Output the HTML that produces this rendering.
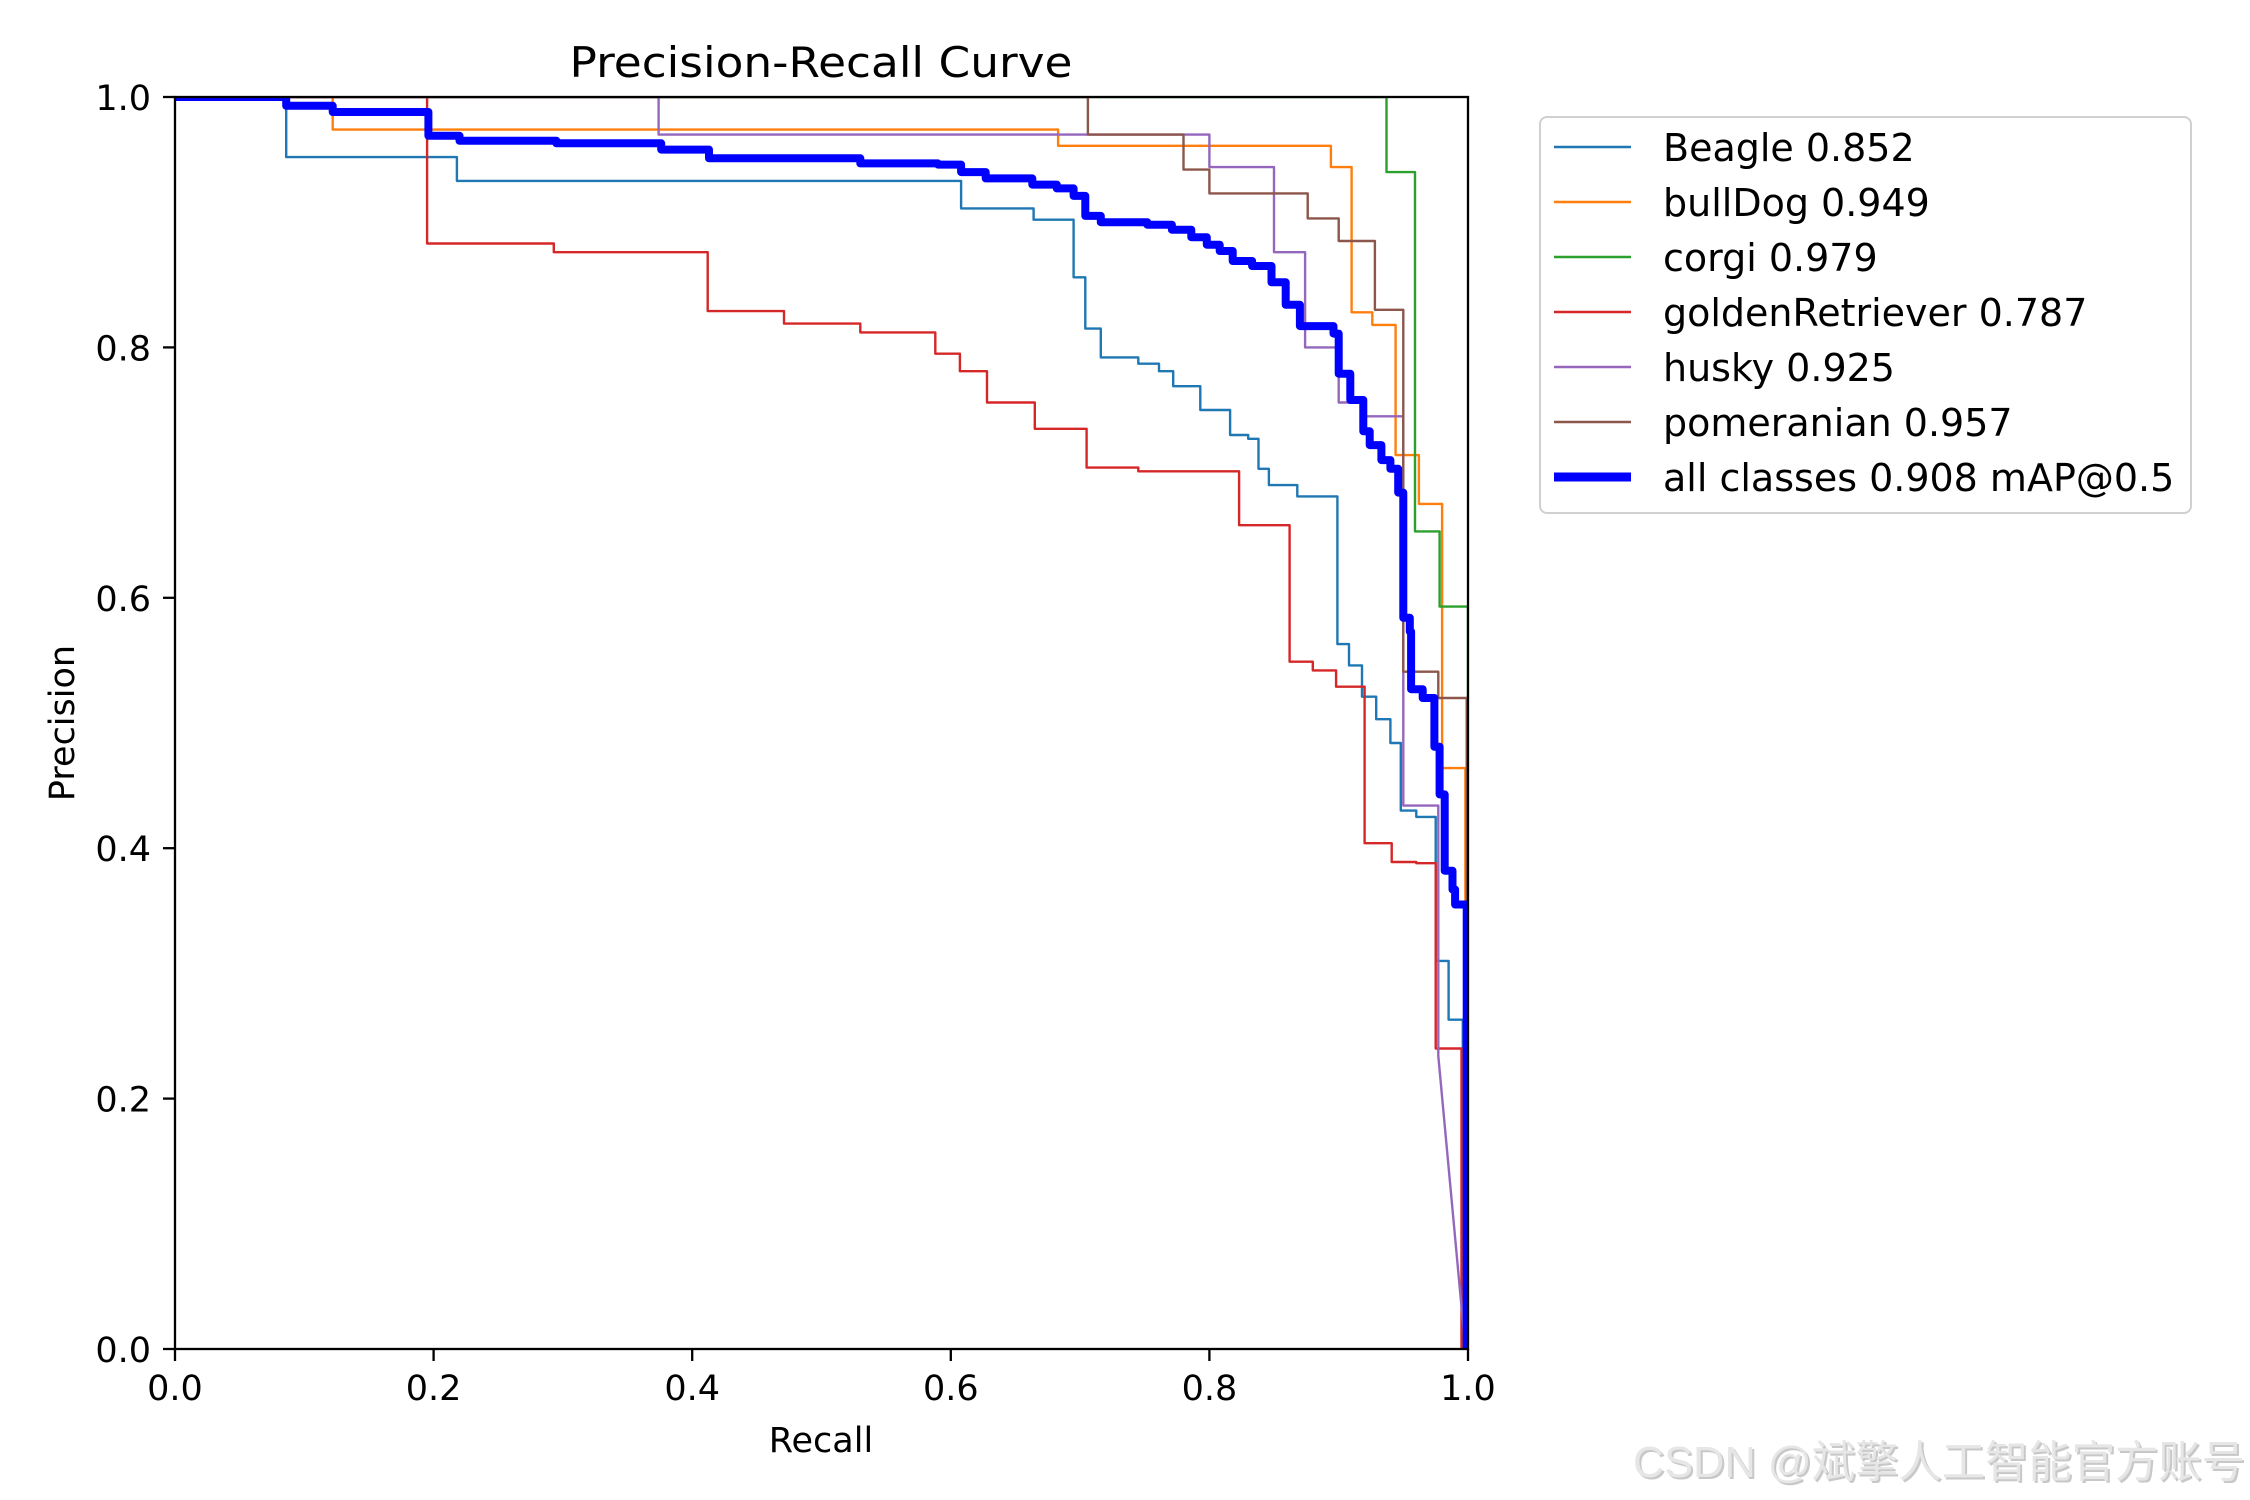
<!DOCTYPE html>
<html><head><meta charset="utf-8"><title>Precision-Recall Curve</title>
<style>html,body{margin:0;padding:0;background:#fff;}svg{display:block;}</style></head>
<body>
<svg id="chart" width="2250" height="1500" viewBox="0 0 2250 1500" xmlns="http://www.w3.org/2000/svg" font-family="'DejaVu Sans','Liberation Sans',sans-serif">
<rect x="0" y="0" width="2250" height="1500" fill="#fff"/>
<text x="821" y="77" font-size="42" text-anchor="middle" textLength="503" lengthAdjust="spacingAndGlyphs">Precision-Recall Curve</text>
<g id="plot"></g>
<text x="821" y="1452" font-size="35" text-anchor="middle">Recall</text>
<text x="0" y="0" font-size="35" text-anchor="middle" transform="translate(74,723) rotate(-90)">Precision</text>
<g id="legend"></g>
<text x="1635" y="1479" font-size="44" fill="#c8c8c8" textLength="612" lengthAdjust="spacingAndGlyphs" font-family="'Liberation Sans','Noto Sans CJK SC',sans-serif">CSDN @斌擎人工智能官方账号</text>
<text x="1633" y="1477" font-size="44" fill="#e6e6e6" textLength="612" lengthAdjust="spacingAndGlyphs" font-family="'Liberation Sans','Noto Sans CJK SC',sans-serif">CSDN @斌擎人工智能官方账号</text>
</svg>
<script>
const xTicks = [0.0, 0.2, 0.4, 0.6, 0.8, 1.0];
const yTicks = [0.0, 0.2, 0.4, 0.6, 0.8, 1.0];
const tickLabels = ["0.0", "0.2", "0.4", "0.6", "0.8", "1.0"];
const seriesNames = ["Beagle 0.852", "bullDog 0.949", "corgi 0.979", "goldenRetriever 0.787", "husky 0.925", "pomeranian 0.957", "all classes 0.908 mAP@0.5"];
// step breakpoints: at recall r, precision drops to p
const beagleR = [0.086, 0.218, 0.608, 0.664, 0.695, 0.704, 0.716, 0.745, 0.761, 0.772, 0.793, 0.816, 0.83, 0.838, 0.846, 0.868, 0.899, 0.908, 0.918, 0.929, 0.94, 0.948, 0.96, 0.975, 0.985, 0.996];
const beagleP = [0.952, 0.933, 0.911, 0.902, 0.856, 0.815, 0.792, 0.787, 0.781, 0.769, 0.750, 0.730, 0.727, 0.703, 0.690, 0.681, 0.563, 0.546, 0.521, 0.503, 0.484, 0.430, 0.425, 0.31, 0.263, 0.0];
const bulldogR = [0.122, 0.683, 0.894, 0.91, 0.926, 0.944, 0.962, 0.98, 0.998];
const bulldogP = [0.974, 0.961, 0.944, 0.828, 0.818, 0.714, 0.675, 0.464, 0.0];
const corgiR = [0.937, 0.959, 0.978, 1.0];
const corgiP = [0.94, 0.653, 0.593, 0.0];
const goldenR = [0.195, 0.293, 0.412, 0.471, 0.53, 0.588, 0.607, 0.628, 0.665, 0.705, 0.745, 0.823, 0.862, 0.88, 0.898, 0.92, 0.941, 0.96, 0.975, 0.995];
const goldenP = [0.883, 0.876, 0.829, 0.819, 0.812, 0.795, 0.781, 0.756, 0.735, 0.704, 0.701, 0.658, 0.549, 0.542, 0.529, 0.404, 0.389, 0.388, 0.24, 0.0];
const huskyR = [0.374, 0.8, 0.85, 0.874, 0.9, 0.92, 0.95, 0.977];
const huskyP = [0.970, 0.944, 0.876, 0.800, 0.756, 0.745, 0.434, 0.234];
const huskyEnd = [0.998, 0.0];
const pomR = [0.706, 0.78, 0.8, 0.876, 0.9, 0.928, 0.95, 0.977, 0.999];
const pomP = [0.970, 0.942, 0.923, 0.903, 0.885, 0.83, 0.541, 0.52, 0.0];
const allR = [0.086, 0.122, 0.196, 0.22, 0.295, 0.376, 0.413, 0.53, 0.59, 0.608, 0.627, 0.663, 0.682, 0.695, 0.704, 0.716, 0.752, 0.771, 0.786, 0.798, 0.808, 0.818, 0.833, 0.848, 0.859, 0.87, 0.896, 0.9, 0.909, 0.919, 0.924, 0.933, 0.94, 0.946, 0.95, 0.955, 0.956, 0.965, 0.974, 0.978, 0.982, 0.988, 0.99, 0.999];
const allP = [0.993, 0.988, 0.969, 0.965, 0.963, 0.958, 0.951, 0.947, 0.946, 0.940, 0.935, 0.930, 0.927, 0.921, 0.905, 0.900, 0.898, 0.894, 0.888, 0.882, 0.877, 0.869, 0.865, 0.852, 0.834, 0.817, 0.811, 0.779, 0.758, 0.733, 0.722, 0.710, 0.703, 0.684, 0.584, 0.573, 0.527, 0.520, 0.481, 0.443, 0.382, 0.367, 0.355, 0.0];

const L = 175, R = 1468, T = 97, B = 1349;
function X(v){ return L + v * (R - L); }
function Y(v){ return B - v * (B - T); }
const NS = "http://www.w3.org/2000/svg";
const plot = document.getElementById('plot');
const legend = document.getElementById('legend');
function mk(tag, attrs, parent){ const e = document.createElementNS(NS, tag); for (const k in attrs) e.setAttribute(k, attrs[k]); parent.appendChild(e); return e; }

const clip = mk('clipPath', {id:'clipArea'}, plot);
mk('rect', {x:L, y:T, width:R-L, height:B-T}, clip);

function stepPath(rs, ps){
  let d = 'M' + X(0) + ' ' + Y(1);
  for (let i = 0; i < rs.length; i++){ d += ' H' + X(rs[i]).toFixed(1) + ' V' + Y(ps[i]).toFixed(1); }
  return d;
}
const series = [
  {name:'beagle-curve', r:beagleR, p:beagleP, c:'#1f77b4', w:2.4},
  {name:'bulldog-curve', r:bulldogR, p:bulldogP, c:'#ff7f0e', w:2.4},
  {name:'corgi-curve', r:corgiR, p:corgiP, c:'#2ca02c', w:2.4},
  {name:'golden-retriever-curve', r:goldenR, p:goldenP, c:'#d62728', w:2.4},
  {name:'husky-curve', r:huskyR, p:huskyP, c:'#9467bd', w:2.4, end:huskyEnd},
  {name:'pomeranian-curve', r:pomR, p:pomP, c:'#8c564b', w:2.4},
  {name:'all-classes-curve', r:allR, p:allP, c:'#0000ff', w:8}
];
const g = mk('g', {'clip-path':'url(#clipArea)'}, plot);
series.forEach(s => {
  let d = stepPath(s.r, s.p);
  if (s.end) d += ' L' + X(s.end[0]) + ' ' + Y(s.end[1]);
  const el = mk('path', {d:d, fill:'none', stroke:s.c, 'stroke-width':s.w, 'stroke-linejoin':'round'}, g);
  
  
});

const frame = mk('rect', {x:L, y:T, width:R-L, height:B-T, fill:'none', stroke:'#000', 'stroke-width':2.3}, plot);



xTicks.forEach((v, i) => {
  const t = mk('line', {x1:X(v), x2:X(v), y1:B, y2:B+12, stroke:'#000', 'stroke-width':2.3}, plot);
  
  
  const tx = mk('text', {x:X(v), y:1400, 'font-size':35, 'text-anchor':'middle'}, plot);
  tx.textContent = tickLabels[i];
  
  
});
yTicks.forEach((v, i) => {
  const t = mk('line', {x1:L-12, x2:L, y1:Y(v), y2:Y(v), stroke:'#000', 'stroke-width':2.3}, plot);
  
  
  const tx = mk('text', {x:151, y:Y(v)+13, 'font-size':35, 'text-anchor':'end'}, plot);
  tx.textContent = tickLabels[i];
  
  
});

const box = mk('rect', {x:1540, y:117, width:651, height:396, rx:7, fill:'#fff', stroke:'#d0d0d0', 'stroke-width':2}, legend);


series.forEach((s, i) => {
  const yy = 147 + i * 55;
  const ln = mk('line', {x1:1554, x2:1631, y1:yy, y2:yy, stroke:s.c, 'stroke-width':s.w === 8 ? 9 : 2.5}, legend);
  
  
  const tx = mk('text', {x:1663, y:yy+14, 'font-size':38}, legend);
  tx.textContent = seriesNames[i];
  
  
});
</script>
</body></html>
